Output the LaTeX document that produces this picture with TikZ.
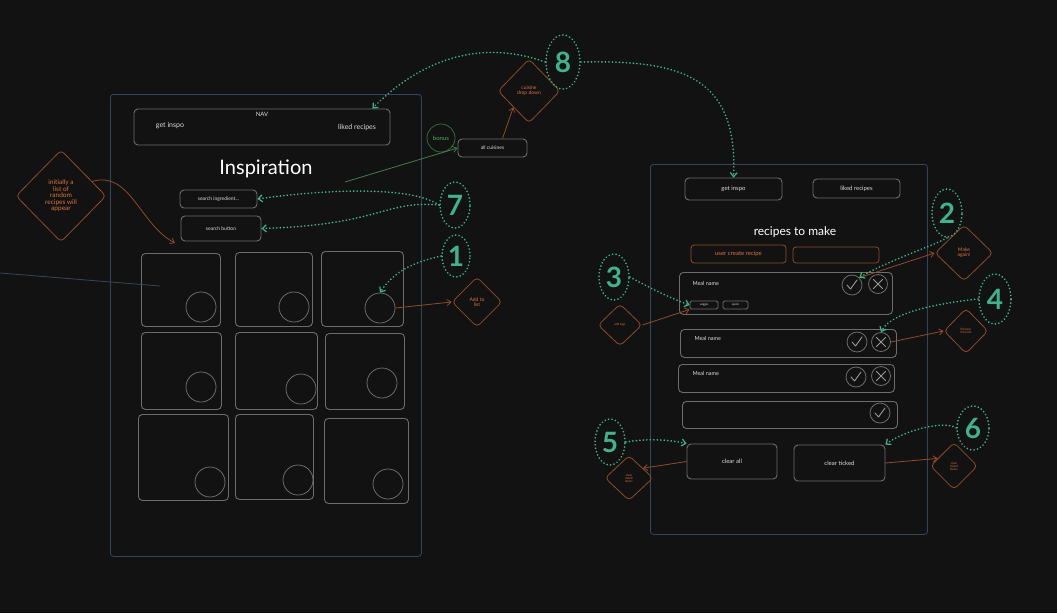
\documentclass[tikz,border=0pt]{standalone}
\usepackage{fontspec}
\setmainfont{Lato}
\usetikzlibrary{shapes.geometric,arrows.meta}
\definecolor{bg}{HTML}{121212}
\definecolor{boxgray}{HTML}{6C6C6C}
\definecolor{txt}{HTML}{DCDCDC}
\definecolor{panelblue}{HTML}{34475A}
\definecolor{mint}{HTML}{3DB489}
\definecolor{noteorange}{HTML}{D9733F}
\definecolor{notebr}{HTML}{8F4B2A}
\definecolor{bonusgreen}{HTML}{2F6B3A}
\definecolor{bonustxt}{HTML}{4FB25A}
\newcommand{\fs}[1]{\fontsize{#1}{#1}\selectfont}
\tikzset{
  box/.style={draw=boxgray, rounded corners=4pt, line width=0.9pt, text=txt, font=\fs{6}},
  cornerbox/.style={box, anchor=north west},
  panel/.style={draw=panelblue, rounded corners=3pt, line width=0.8pt, anchor=north west},
  orangebox/.style={draw=notebr, rounded corners=3pt, line width=0.8pt, text=noteorange, font=\fs{6}},
  ring/.style={circle, draw=boxgray, line width=0.8pt, inner sep=0},
  note/.style={diamond, draw=notebr, rounded corners=4pt, line width=0.8pt, text=noteorange,
    align=center, inner sep=0},
  num/.style={ellipse, draw=mint, line width=1.8pt, dash pattern=on 0.1pt off 3.4pt, line cap=round,
    text=mint, inner sep=0, font=\fs{28}\bfseries},
  hint/.style={mint, line width=1.8pt, dash pattern=on 0.1pt off 3.4pt, line cap=round,
    -{Straight Barb[length=4pt,width=7pt,line width=1.2pt,line cap=butt]}},
  link/.style={notebr, line width=0.8pt, -{Straight Barb[length=4pt,width=6pt]}},
  tickmark/.style={boxgray!70!white, line width=0.9pt, line cap=round, line join=round}
}
\begin{document}
\begin{tikzpicture}[x=1pt,y=-1pt]
\fill[bg] (0,0) rectangle (1057,613);
\useasboundingbox (0,0) rectangle (1057,613);

% ---------------- inspiration page ----------------
\node[panel, minimum width=311, minimum height=462] (lpanel) at (110,94) {};
\node[box, minimum width=256, minimum height=36] (nav) at (262,127) {};
\node[text=txt, font=\fs{6}] (navlbl) at (262,114) {NAV};
\node[text=txt, font=\fs{7}] (navgi) at (170,126) {get inspo};
\node[text=txt, font=\fs{7}] (navlr) at (357,128) {liked recipes};
\node[text=white, font=\fs{20}] (title) at (266,169) {Inspiration};
\node[box, minimum width=77, minimum height=18, font=\fs{5}] (srch) at (218.5,199) {search ingredient...};
\node[box, minimum width=80, minimum height=25, font=\fs{5}] (sbtn) at (221,228.5) {search button};

\foreach \i/\xa/\ya/\xb/\yb/\cx/\cy in {
  1/141/253/220/326/201/307, 2/235/252/312/326/294/307, 3/321/251/403/326/380/308,
  4/141/332/221/409/201/387, 5/235/332/317/409/301/389, 6/325/333/404/409/382/383,
  7/138/414/228/500/210/482, 8/235/414/313/499/298/480, 9/324/418/408/503/388/484}{
  \node[cornerbox, minimum width={\xb-\xa}, minimum height={\yb-\ya}] (card\i) at (\xa,\ya) {};
  \node[ring, minimum size=30] (cir\i) at (\cx,\cy) {};
}

% stray line entering from the left
\coordinate (lfree) at (0,273);
\coordinate (lend) at (160,286);
\draw[panelblue, line width=0.8pt] (lfree) -- (lend);

% note on the initial list
\node[note, minimum width=90, minimum height=92, font=\fs{6.5}] (initnote) at (61,196)
  {\baselineskip=8pt initially a\\list of\\random\\recipes will\\appear};
\draw[link] (initnote.25) .. controls (130,170) and (140,225) .. (175,243);

% cuisine extras
\node[box, minimum width=69, minimum height=18, font=\fs{5}] (allc) at (492.5,148) {all cuisines};
\node[circle, draw=bonusgreen, line width=0.8pt, minimum size=28, inner sep=0, text=bonustxt, font=\fs{6}] (bonus) at (441,138) {bonus};
\coordinate (gstart) at (345,182);
\draw[bonusgreen!90!white, line width=0.8pt, -{Straight Barb[length=4pt,width=6pt]}] (gstart) -- (allc.west);
\node[note, minimum width=62, minimum height=64, font=\fs{5}] (cuis) at (529,91) {cuisine\\drop down};
\coordinate (allcn) at ([xshift=10pt]allc.north);
\draw[link] (allcn) -- (cuis.south west);

\node[note, minimum width=50, minimum height=50, font=\fs{5}] (addl) at (477,302) {Add to\\list};
\draw[link] (cir3.east) -- (addl.west);

% numbered hints, left
\node[num, minimum width=34, minimum height=54] (n8) at (563,62) {8};
\node[num, minimum width=30, minimum height=46] (n7) at (455,205) {7};
\node[num, minimum width=28, minimum height=42] (n1) at (456,256) {1};
\draw[hint] (n8.west) .. controls (470,35) and (410,70) .. ([xshift=-18pt]nav.north east);
\draw[hint] (n7.west) .. controls (410,185) and (320,190) .. (srch.east);
\draw[hint] (n7.west) .. controls (385,200) and (380,225) .. (sbtn.east);
\draw[hint] (n1.west) .. controls (415,262) and (395,270) .. (cir3.north);

% ---------------- recipes to make page ----------------
\node[panel, minimum width=277, minimum height=370] (rpanel) at (650,164) {};
\node[box, minimum width=97, minimum height=22] (gi2) at (733.5,189) {get inspo};
\node[box, minimum width=87, minimum height=19] (lr2) at (856.5,188.5) {liked recipes};
\node[text=white, font=\fs{12}] (rtitle) at (795,232) {recipes to make};
\node[orangebox, minimum width=95, minimum height=18] (ucr) at (738.5,254) {user create recipe};
\node[orangebox, minimum width=86, minimum height=16] (blank) at (836,255) {};

\draw[hint] (n8.east) .. controls (680,60) and (738,75) .. (gi2.north);

% meal rows
\node[cornerbox, minimum width=213, minimum height=42] (row1) at (679,272) {};
\node[text=txt, font=\fs{5.5}, anchor=west] (mn1) at (689,283) {Meal name};
\node[box, rounded corners=1.5pt, minimum width=28, minimum height=8, inner sep=0, font=\fs{3}] (tag1) at (704,305) {veggie};
\node[box, rounded corners=1.5pt, minimum width=25, minimum height=8, inner sep=0, font=\fs{3}] (tag2) at (735.5,305) {quick};
\node[cornerbox, minimum width=216, minimum height=28] (row2) at (680,329) {};
\node[text=txt, font=\fs{5.5}, anchor=west] (mn2) at (691,338) {Meal name};
\node[cornerbox, minimum width=216, minimum height=28] (row3) at (678,364) {};
\node[text=txt, font=\fs{5.5}, anchor=west] (mn3) at (689,373) {Meal name};
\node[cornerbox, minimum width=215, minimum height=27] (row4) at (682,401) {};

\foreach \n/\x/\y in {chk1/852/285, chk2/857/342, chk3/856/377, chk4/880/413}{
  \node[ring, minimum size=20] (\n) at (\x,\y) {};
  \draw[tickmark] ([shift={(-5,0)}]\n.center) -- ([shift={(-1.5,4)}]\n.center) -- ([shift={(5,-5)}]\n.center);
}
\foreach \n/\x/\y in {x1/878/284, x2/881/342, x3/881/376}{
  \node[ring, minimum size=19] (\n) at (\x,\y) {};
  \draw[tickmark] ([shift={(-4.5,-4.5)}]\n.center) -- ([shift={(4.5,4.5)}]\n.center);
  \draw[tickmark] ([shift={(-4.5,4.5)}]\n.center) -- ([shift={(4.5,-4.5)}]\n.center);
}

\node[box, minimum width=90, minimum height=35] (clra) at (732,461.5) {clear all};
\node[box, minimum width=91, minimum height=36] (clrt) at (839.5,463) {clear ticked};

% notes, right
\node[note, minimum width=58, minimum height=56, font=\fs{5}] (again) at (964,253) {Make\\again!};
\node[note, minimum width=44, minimum height=42, font=\fs{3}] (tagn) at (620,325) {add tags};
\node[note, minimum width=44, minimum height=45, font=\fs{3}] (rmv) at (966,331) {Remove\\from list};
\node[note, minimum width=48, minimum height=45, font=\fs{3}] (clan) at (629,478) {clear\\listed\\items};
\node[note, minimum width=47, minimum height=47, font=\fs{3}] (cltn) at (954,466) {clear\\ticked\\items};

\draw[link] (chk1.north east) -- (again.west);
\draw[link] (tagn.east) -- (tag1.south west);
\draw[link] (x2.east) -- (rmv.west);
\draw[link] (clra.west) -- (clan.35);
\draw[link] (clrt.east) -- (cltn.155);

% numbered hints, right
\node[num, minimum width=30, minimum height=48] (n2) at (947,213) {2};
\node[num, minimum width=30, minimum height=46] (n3) at (614,277) {3};
\node[num, minimum width=32, minimum height=50] (n4) at (995,299) {4};
\node[num, minimum width=30, minimum height=46] (n5) at (610,442) {5};
\node[num, minimum width=32, minimum height=44] (n6) at (973,428) {6};
\draw[hint] (n2.south) .. controls (935,245) and (885,262) .. (chk1.north east);
\draw[hint] (n3.east) .. controls (650,288) and (670,298) .. (tag1.west);
\draw[hint] (n4.west) .. controls (950,302) and (892,310) .. (x2.north);
\draw[hint] (n5.east) .. controls (650,438) and (670,440) .. (clra.north west);
\draw[hint] (n6.west) .. controls (945,420) and (905,430) .. (clrt.north east);
\end{tikzpicture}
\end{document}
